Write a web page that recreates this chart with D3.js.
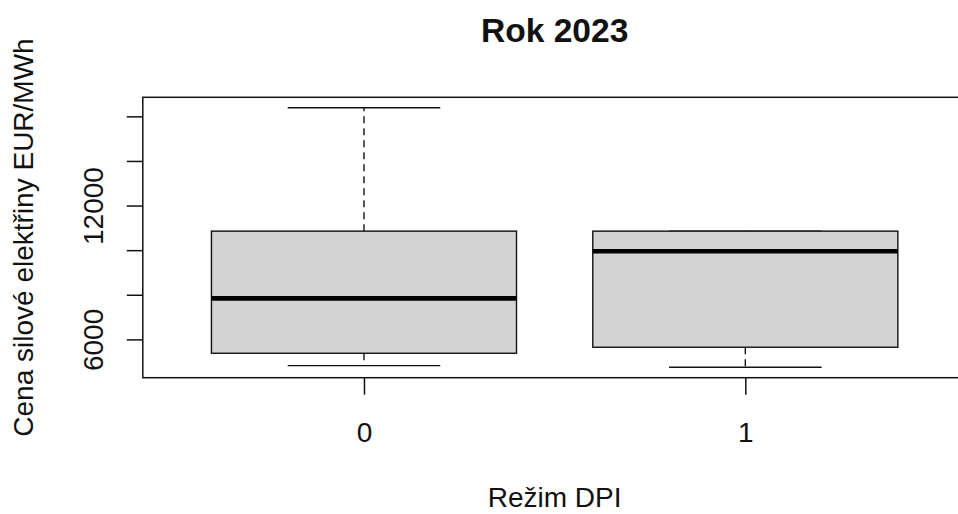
<!DOCTYPE html>
<html>
<head>
<meta charset="utf-8">
<script src="https://cdn.jsdelivr.net/npm/d3@7"></script>
<style>
  html, body { margin: 0; padding: 0; background: #fff; }
  svg { display: block; font-family: "Liberation Sans", Arial, sans-serif; }
</style>
</head>
<body>
<svg id="chart" width="958" height="514"></svg>
<script>
// ---- data ----
const categories = ["0", "1"];
const whiskerLow = [4845, 4770];
const q1 = [5400, 5670];
const medians = [7860, 9975];
const q3 = [10875, 10875];
const whiskerHigh = [16410, 10875];
const yTicks = [6000, 8000, 10000, 12000, 14000, 16000];
const yTickLabels = ["6000", "", "", "12000", "", ""];
const title = "Rok 2023";
const xTitle = "Režim DPI";
const yTitle = "Cena silové elektřiny EUR/MWh";

// ---- layout ----
const W = 958, H = 514;
const plot = { left: 142.8, right: 966.5, top: 97.3, bottom: 377.7 };
const svg = d3.select("#chart");

const n = categories.length;
const x = d3.scaleLinear()
  .domain([0.5 - 0.04 * n, n + 0.5 + 0.04 * n])
  .range([plot.left, plot.right]);

const lo = d3.min(whiskerLow), hi = d3.max(whiskerHigh);
const ext = (hi - lo) * 0.04;
const y = d3.scaleLinear()
  .domain([lo - ext, hi + ext])
  .range([plot.bottom, plot.top]);

// boxes
const data = categories.map((c, i) => ({
  c, pos: i + 1, wl: whiskerLow[i], q1: q1[i], med: medians[i], q3: q3[i], wh: whiskerHigh[i]
}));

const g = svg.append("g");
const boxes = g.selectAll("g.box").data(data).join("g").attr("class", "box");

// dashed whiskers
boxes.append("line")
  .attr("x1", d => x(d.pos)).attr("x2", d => x(d.pos))
  .attr("y1", d => y(d.q3)).attr("y2", d => y(d.wh))
  .attr("stroke", "#111").attr("stroke-width", 1.4).attr("stroke-dasharray", "7,5");
boxes.append("line")
  .attr("x1", d => x(d.pos)).attr("x2", d => x(d.pos))
  .attr("y1", d => y(d.q1)).attr("y2", d => y(d.wl))
  .attr("stroke", "#111").attr("stroke-width", 1.4).attr("stroke-dasharray", "7,5");
// caps
boxes.append("line")
  .attr("x1", d => x(d.pos - 0.2)).attr("x2", d => x(d.pos + 0.2))
  .attr("y1", d => y(d.wh)).attr("y2", d => y(d.wh))
  .attr("stroke", "#111").attr("stroke-width", 1.4);
boxes.append("line")
  .attr("x1", d => x(d.pos - 0.2)).attr("x2", d => x(d.pos + 0.2))
  .attr("y1", d => y(d.wl)).attr("y2", d => y(d.wl))
  .attr("stroke", "#111").attr("stroke-width", 1.4);
// box
boxes.append("rect")
  .attr("x", d => x(d.pos - 0.4))
  .attr("width", d => x(d.pos + 0.4) - x(d.pos - 0.4))
  .attr("y", d => y(d.q3))
  .attr("height", d => y(d.q1) - y(d.q3))
  .attr("fill", "#d3d3d3").attr("stroke", "#111").attr("stroke-width", 1.4);
// median
boxes.append("line")
  .attr("x1", d => x(d.pos - 0.4)).attr("x2", d => x(d.pos + 0.4))
  .attr("y1", d => y(d.med)).attr("y2", d => y(d.med))
  .attr("stroke", "#000").attr("stroke-width", 4.6);

// frame
svg.append("rect")
  .attr("x", plot.left).attr("y", plot.top)
  .attr("width", plot.right - plot.left).attr("height", plot.bottom - plot.top)
  .attr("fill", "none").attr("stroke", "#111").attr("stroke-width", 1.5);

// y axis
const yAxis = svg.append("g")
  .attr("transform", `translate(${plot.left},0)`)
  .call(d3.axisLeft(y).tickValues(yTicks).tickSize(16)
    .tickFormat((d, i) => yTickLabels[i]));
yAxis.select(".domain").remove();
yAxis.selectAll(".tick line").attr("stroke", "#111").attr("stroke-width", 1.5);
yAxis.selectAll(".tick").attr("transform", null);
yAxis.selectAll(".tick line").attr("y1", d => y(d)).attr("y2", d => y(d));
yAxis.selectAll(".tick text")
  .attr("x", null).attr("dy", null)
  .attr("transform", d => `translate(-40,${y(d)}) rotate(-90)`)
  .attr("text-anchor", "middle")
  .attr("font-size", 28)
  .attr("font-family", "Liberation Sans, Arial, sans-serif")
  .attr("fill", "#111");

// x axis
const xAxis = svg.append("g")
  .attr("transform", `translate(0,${plot.bottom})`)
  .call(d3.axisBottom(x).tickValues(data.map(d => d.pos)).tickSize(17)
    .tickFormat((d, i) => categories[i]));
xAxis.select(".domain").remove();
xAxis.selectAll(".tick line").attr("stroke", "#111").attr("stroke-width", 1.5);
xAxis.selectAll(".tick text")
  .attr("y", 64.3).attr("dy", null)
  .attr("font-size", 28)
  .attr("font-family", "Liberation Sans, Arial, sans-serif")
  .attr("fill", "#111");

// titles
svg.append("text")
  .attr("x", (plot.left + plot.right) / 2).attr("y", 42)
  .attr("text-anchor", "middle")
  .attr("font-size", 33.6).attr("font-weight", "bold").attr("fill", "#111")
  .text(title);
svg.append("text")
  .attr("x", (plot.left + plot.right) / 2).attr("y", 507)
  .attr("text-anchor", "middle")
  .attr("font-size", 28).attr("fill", "#111")
  .text(xTitle);
svg.append("text")
  .attr("transform", `translate(33,${(plot.top + plot.bottom) / 2}) rotate(-90)`)
  .attr("text-anchor", "middle")
  .attr("font-size", 28).attr("fill", "#111")
  .text(yTitle);
</script>
</body>
</html>
